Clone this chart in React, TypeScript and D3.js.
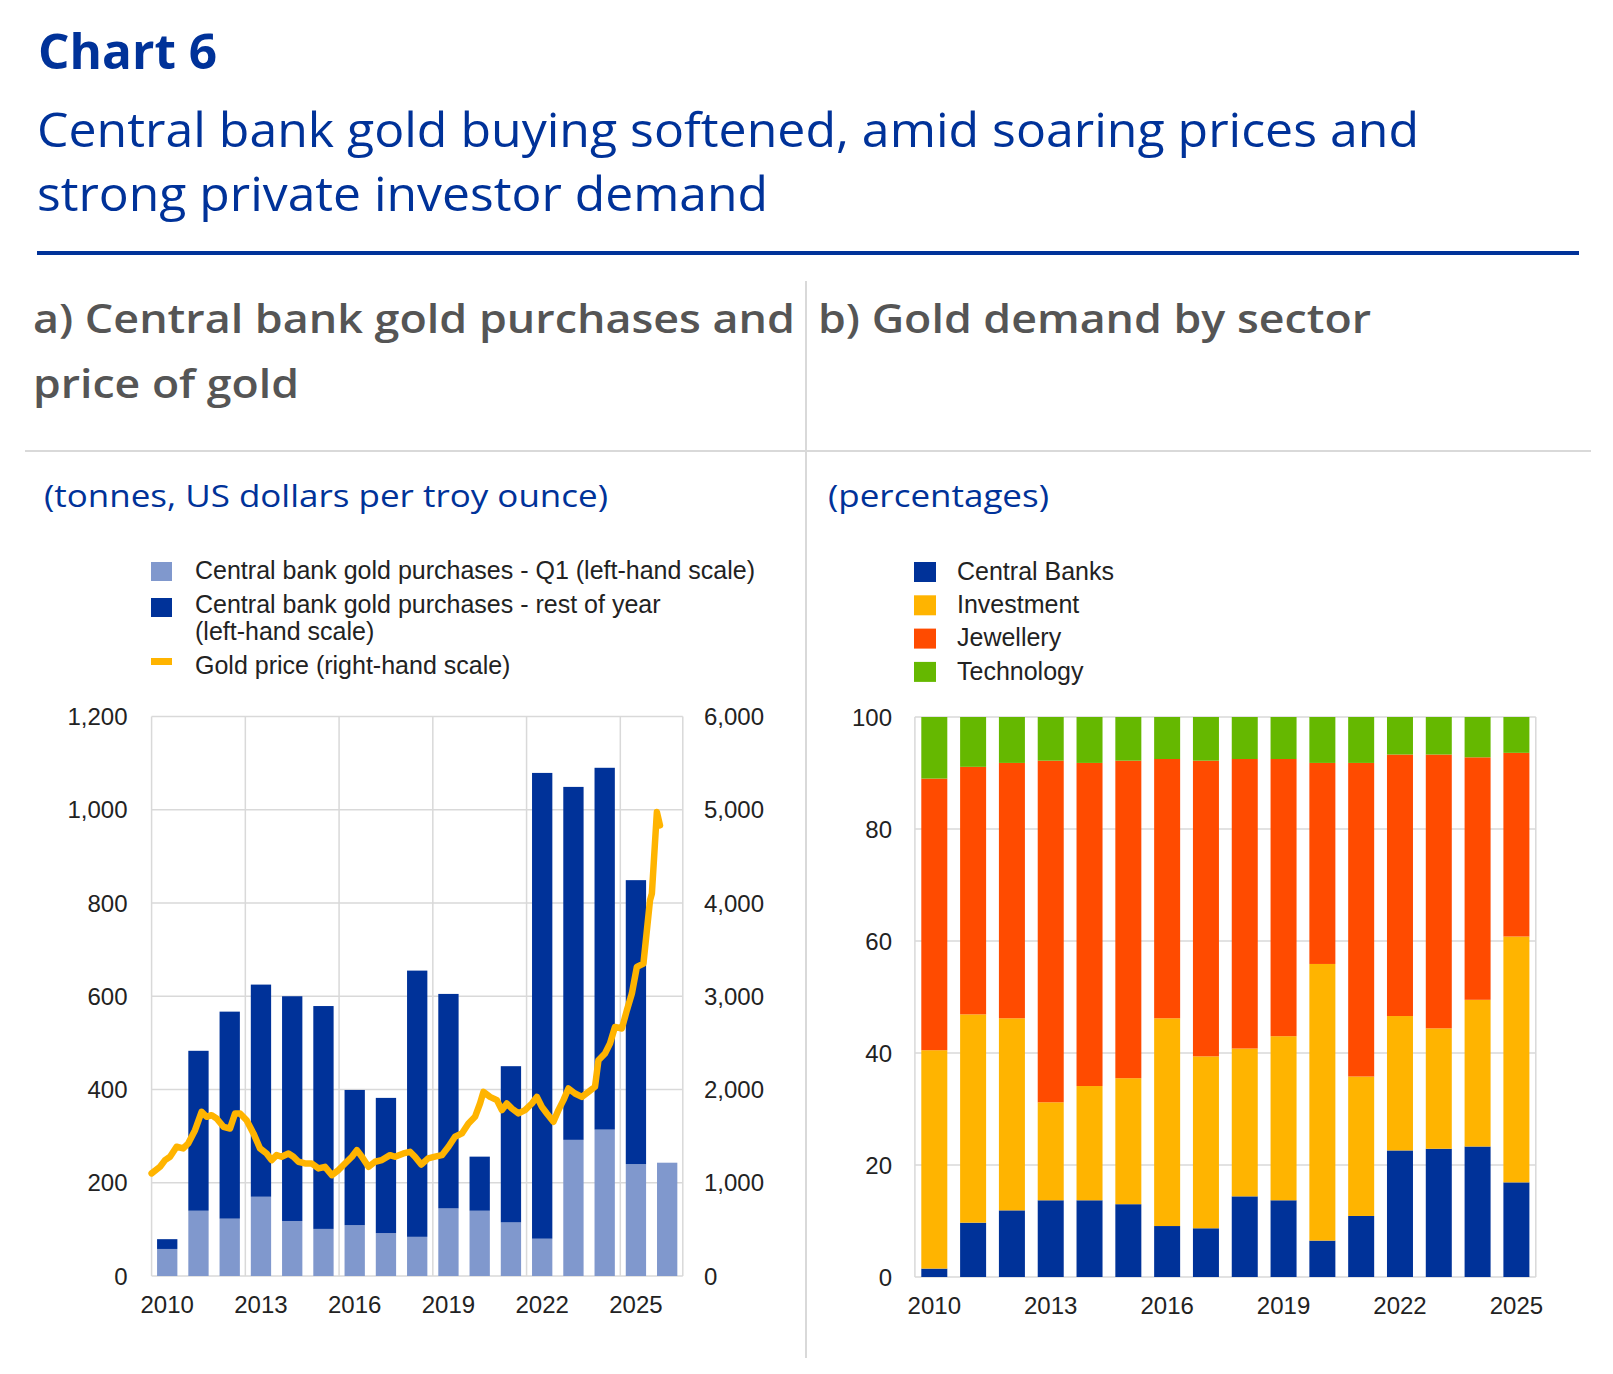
import React, { useRef, useEffect } from "react";
import * as d3 from "d3";

// panel a: central bank purchases (tonnes) and the gold price (USD/oz)
const purchaseYears = [2010, 2011, 2012, 2013, 2014, 2015, 2016, 2017, 2018, 2019, 2020, 2021, 2022, 2023, 2024, 2025, 2026];
const purchasesQ1 = [58, 140, 123, 170, 118, 101, 109, 92, 84, 145, 140, 115, 80, 292, 314, 240, 243];
const purchasesRest = [21, 343, 444, 455, 482, 478, 290, 290, 571, 460, 116, 335, 999, 757, 776, 609, 0];

const goldPriceDates = [
  2010.0, 2010.27, 2010.43, 2010.59, 2010.8, 2011.01, 2011.17, 2011.39, 2011.6, 2011.76, 2011.92,
  2012.08, 2012.3, 2012.51, 2012.67, 2012.83, 2013.04, 2013.26, 2013.47, 2013.68, 2013.84,
  2014.0, 2014.16, 2014.38, 2014.54, 2014.7, 2014.91, 2015.12, 2015.34, 2015.55, 2015.77, 2015.98,
  2016.19, 2016.41, 2016.57, 2016.73, 2016.94, 2017.15, 2017.37, 2017.63, 2017.79, 2018.06, 2018.27,
  2018.43, 2018.63, 2018.85, 2019.07, 2019.29, 2019.5, 2019.71, 2019.93, 2020.14, 2020.35, 2020.51,
  2020.62, 2020.83, 2021.05, 2021.21, 2021.37, 2021.53, 2021.74, 2021.95, 2022.17, 2022.33, 2022.49,
  2022.65, 2022.86, 2023.02, 2023.18, 2023.34, 2023.55, 2023.77, 2023.98, 2024.19, 2024.3, 2024.51,
  2024.67, 2024.83, 2025.05, 2025.21, 2025.37, 2025.53, 2025.74, 2025.95, 2026.01, 2026.17, 2026.27,
];
const goldPrice = [
  1100, 1171, 1243, 1279, 1386, 1368, 1421, 1564, 1761, 1707, 1725,
  1689, 1600, 1582, 1743, 1743, 1671, 1529, 1368, 1314, 1243,
  1296, 1279, 1314, 1279, 1225, 1207, 1207, 1154, 1171, 1082, 1136,
  1207, 1279, 1350, 1279, 1171, 1225, 1243, 1296, 1279, 1314, 1332,
  1279, 1195, 1262, 1280, 1296, 1386, 1493, 1529, 1636, 1707, 1850,
  1975, 1921, 1886, 1779, 1850, 1796, 1743, 1779, 1850, 1921, 1814,
  1743, 1654, 1779, 1886, 2011, 1957, 1921, 1975, 2029, 2314, 2386,
  2493, 2671, 2654, 2850, 3029, 3314, 3350, 4029, 4100, 4975, 4832,
];

const tonnesTicks = [0, 200, 400, 600, 800, 1000, 1200];
const priceTicks = [0, 1000, 2000, 3000, 4000, 5000, 6000];
const labelYears = [2010, 2013, 2016, 2019, 2022, 2025];

// panel b: shares of gold demand by sector (percentages)
const sectorYears = [2010, 2011, 2012, 2013, 2014, 2015, 2016, 2017, 2018, 2019, 2020, 2021, 2022, 2023, 2024, 2025];
const centralBanks = [1.5, 9.7, 11.9, 13.7, 13.7, 13.0, 9.1, 8.7, 14.4, 13.7, 6.5, 10.9, 22.6, 22.9, 23.3, 16.9];
const investment = [39.0, 37.2, 34.3, 17.5, 20.4, 22.5, 37.1, 30.7, 26.4, 29.3, 49.4, 24.9, 24.0, 21.5, 26.2, 43.9];
const jewellery = [48.5, 44.2, 45.6, 61.0, 57.7, 56.7, 46.3, 52.8, 51.7, 49.5, 35.9, 56.0, 46.7, 48.9, 43.3, 32.8];
const technology = [11.0, 8.9, 8.2, 7.8, 8.2, 7.8, 7.5, 7.8, 7.5, 7.5, 8.2, 8.2, 6.7, 6.7, 7.2, 6.4];
const pctTicks = [0, 20, 40, 60, 80, 100];

const sectorNames = ["Central Banks", "Investment", "Jewellery", "Technology"];

const BLUE = "#003299";
const LIGHT_BLUE = "#8098cd";
const YELLOW = "#ffb400";
const ORANGE = "#ff4b00";
const GREEN = "#65b800";
const GRID = "#d9d9d9";
const TEXT = "#222222";
const HEAD_FONT = "'Open Sans', sans-serif";
const CHART_FONT = "'Liberation Sans', Arial, sans-serif";

const App = () => {
  const svgRef = useRef<SVGSVGElement | null>(null);

  useEffect(() => {
    const svg = d3.select(svgRef.current);
    svg.selectAll("*").remove();

    // heading text, stretched to its set width
    const heading = (x: number, y: number, t: string, size: number, weight: number, color: string, width: number) =>
      svg.append("text").attr("x", x).attr("y", y).text(t)
        .attr("textLength", width).attr("lengthAdjust", "spacingAndGlyphs")
        .style("font-family", HEAD_FONT).style("font-weight", weight)
        .style("font-size", size + "px").attr("fill", color);

    heading(38, 69, "Chart 6", 49, 700, BLUE, 179);
    heading(37, 147, "Central bank gold buying softened, amid soaring prices and", 47, 400, BLUE, 1382);
    heading(37, 211, "strong private investor demand", 47, 400, BLUE, 731);
    svg.append("rect").attr("x", 37).attr("y", 251).attr("width", 1542).attr("height", 4).attr("fill", BLUE);

    heading(33, 333, "a) Central bank gold purchases and", 40, 600, "#555555", 762);
    heading(33, 398, "price of gold", 40, 600, "#555555", 266);
    heading(818, 333, "b) Gold demand by sector", 40, 600, "#555555", 553);

    svg.append("line").attr("x1", 806).attr("x2", 806).attr("y1", 281).attr("y2", 1358)
      .attr("stroke", GRID).attr("stroke-width", 2);
    svg.append("line").attr("x1", 25).attr("x2", 1591).attr("y1", 451).attr("y2", 451)
      .attr("stroke", GRID).attr("stroke-width", 2);

    heading(44, 507, "(tonnes, US dollars per troy ounce)", 31, 400, BLUE, 564);
    heading(828, 507, "(percentages)", 31, 400, BLUE, 221);

    // ---------- panel a ----------
    const a = svg.append("g");
    const x0 = d3.scaleBand<number>().domain(purchaseYears).range([151.6, 682.8])
      .paddingInner(0.35).paddingOuter(0.175);
    const xTime = d3.scaleLinear().domain([2010, 2027]).range([151.6, 682.8]);
    const yL = d3.scaleLinear().domain([0, 1200]).range([1276, 716.5]);
    const yR = d3.scaleLinear().domain([0, 6000]).range([1276, 716.5]);

    a.selectAll(".hgrid").data(tonnesTicks).enter().append("line")
      .attr("x1", 151.6).attr("x2", 682.8).attr("y1", (d) => yL(d)).attr("y2", (d) => yL(d))
      .attr("stroke", GRID).attr("stroke-width", 1.5);
    const boundaries = [2010, 2013, 2016, 2019, 2022, 2025];
    a.selectAll(".vgrid").data(boundaries).enter().append("line")
      .attr("x1", (d) => x0(d)! - (x0.step() - x0.bandwidth()) / 2)
      .attr("x2", (d) => x0(d)! - (x0.step() - x0.bandwidth()) / 2)
      .attr("y1", yL(1200)).attr("y2", yL(0))
      .attr("stroke", GRID).attr("stroke-width", 1.5);
    a.append("line").attr("x1", 682.8).attr("x2", 682.8).attr("y1", yL(1200)).attr("y2", yL(0))
      .attr("stroke", GRID).attr("stroke-width", 1.5);

    const purchaseRows = purchaseYears.map((year, i) => ({ year, q1: purchasesQ1[i], rest: purchasesRest[i] }));
    const purchaseStack = d3.stack<any>().keys(["q1", "rest"])(purchaseRows);
    const purchaseColors = [LIGHT_BLUE, BLUE];
    purchaseStack.forEach((layer, k) => {
      a.selectAll(".bar" + k).data(layer).enter().append("rect")
        .attr("x", (d: any) => x0(d.data.year)!)
        .attr("width", x0.bandwidth())
        .attr("y", (d) => yL(d[1]))
        .attr("height", (d) => yL(d[0]) - yL(d[1]))
        .attr("fill", purchaseColors[k]);
    });

    const priceLine = d3.line<number>()
      .x((_, i) => xTime(goldPriceDates[i]))
      .y((d) => yR(d))
      .curve(d3.curveLinear);
    a.append("path").datum(goldPrice).attr("d", priceLine)
      .attr("fill", "none").attr("stroke", YELLOW).attr("stroke-width", 6.5)
      .attr("stroke-linejoin", "round").attr("stroke-linecap", "round");

    a.selectAll(".ltick").data(tonnesTicks).enter().append("text")
      .attr("x", 127.5).attr("y", (d) => yL(d)).attr("dy", "0.36em").attr("text-anchor", "end")
      .text((d) => d3.format(",")(d))
      .style("font-family", CHART_FONT).style("font-size", "24px").attr("fill", TEXT);
    a.selectAll(".rtick").data(priceTicks).enter().append("text")
      .attr("x", 704).attr("y", (d) => yR(d)).attr("dy", "0.36em")
      .text((d) => d3.format(",")(d))
      .style("font-family", CHART_FONT).style("font-size", "24px").attr("fill", TEXT);
    a.selectAll(".xtick").data(labelYears).enter().append("text")
      .attr("x", (d) => x0(d)! + x0.bandwidth() / 2).attr("y", 1313).attr("text-anchor", "middle")
      .text((d) => String(d))
      .style("font-family", CHART_FONT).style("font-size", "24px").attr("fill", TEXT);

    // legend a
    const legA = svg.append("g").style("font-family", CHART_FONT).style("font-size", "25px").attr("fill", TEXT);
    legA.append("rect").attr("x", 151).attr("y", 562).attr("width", 21).attr("height", 19).attr("fill", LIGHT_BLUE);
    legA.append("rect").attr("x", 151).attr("y", 598).attr("width", 21).attr("height", 19).attr("fill", BLUE);
    legA.append("rect").attr("x", 151).attr("y", 658).attr("width", 21).attr("height", 7).attr("fill", YELLOW);
    legA.append("text").attr("x", 195).attr("y", 579).text("Central bank gold purchases - Q1 (left-hand scale)");
    legA.append("text").attr("x", 195).attr("y", 613).text("Central bank gold purchases - rest of year");
    legA.append("text").attr("x", 195).attr("y", 640).text("(left-hand scale)");
    legA.append("text").attr("x", 195).attr("y", 674).text("Gold price (right-hand scale)");

    // ---------- panel b ----------
    const b = svg.append("g");
    const xb = d3.scaleBand<number>().domain(sectorYears).range([914.9, 1535.8])
      .paddingInner(0.33).paddingOuter(0.165);
    const yb = d3.scaleLinear().domain([0, 100]).range([1277, 717]);

    b.selectAll(".hgrid").data(pctTicks).enter().append("line")
      .attr("x1", 914.9).attr("x2", 1535.8).attr("y1", (d) => yb(d)).attr("y2", (d) => yb(d))
      .attr("stroke", GRID).attr("stroke-width", 1.5);
    [914.9, 1535.8].forEach((xv) =>
      b.append("line").attr("x1", xv).attr("x2", xv).attr("y1", yb(100)).attr("y2", yb(0))
        .attr("stroke", GRID).attr("stroke-width", 1.5));

    const sectorRows = sectorYears.map((year, i) => ({
      year,
      "Central Banks": centralBanks[i],
      Investment: investment[i],
      Jewellery: jewellery[i],
      Technology: technology[i],
    }));
    const sectorStack = d3.stack<any>().keys(sectorNames)(sectorRows);
    const sectorColors = d3.scaleOrdinal<string>().domain(sectorNames).range([BLUE, YELLOW, ORANGE, GREEN]);
    sectorStack.forEach((layer) => {
      b.selectAll(".s" + layer.index).data(layer).enter().append("rect")
        .attr("x", (d: any) => xb(d.data.year)!)
        .attr("width", xb.bandwidth())
        .attr("y", (d) => yb(d[1]))
        .attr("height", (d) => yb(d[0]) - yb(d[1]))
        .attr("fill", sectorColors(layer.key));
    });

    b.selectAll(".ytick").data(pctTicks).enter().append("text")
      .attr("x", 892).attr("y", (d) => yb(d)).attr("dy", "0.36em").attr("text-anchor", "end")
      .text((d) => String(d))
      .style("font-family", CHART_FONT).style("font-size", "24px").attr("fill", TEXT);
    b.selectAll(".xtick").data(labelYears).enter().append("text")
      .attr("x", (d) => xb(d)! + xb.bandwidth() / 2).attr("y", 1314).attr("text-anchor", "middle")
      .text((d) => String(d))
      .style("font-family", CHART_FONT).style("font-size", "24px").attr("fill", TEXT);

    // legend b
    const legB = svg.append("g").style("font-family", CHART_FONT).style("font-size", "25px").attr("fill", TEXT);
    sectorNames.forEach((name, i) => {
      legB.append("rect").attr("x", 914).attr("y", 562 + i * 33.3).attr("width", 22).attr("height", 20)
        .attr("fill", sectorColors(name));
      legB.append("text").attr("x", 957).attr("y", 580 + i * 33.2).text(name);
    });
  }, []);

  return (
    <div style={{ position: "absolute", left: 0, top: 0 }}>
      <svg ref={svgRef} width={1613} height={1374} style={{ display: "block", background: "#fff" }} />
    </div>
  );
};

export default App;
